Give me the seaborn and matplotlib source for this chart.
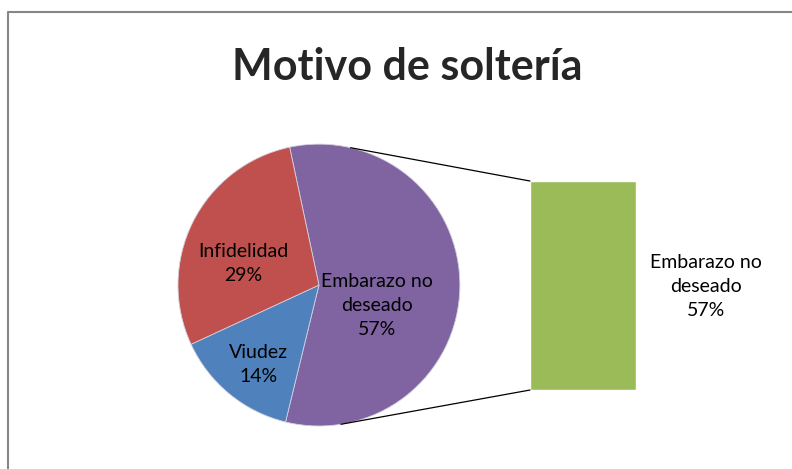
import numpy as np
import matplotlib.pyplot as plt
import seaborn as sns
from matplotlib.patches import ConnectionPatch
from matplotlib.lines import Line2D

# data
TITLE = "Motivo de soltería"
pie_labels = ["Embarazo no\ndeseado", "Viudez", "Infidelidad"]
pie_counts = [4, 1, 2]
pie_colors = ["#8064A2", "#4F81BD", "#C0504D"]
bar_labels = ["Embarazo no\ndeseado"]
bar_pct = [57]
bar_color = "#9BBB59"

# label placement inside the pie: (radius, angle in degrees)
label_pos = [(0.435, -19), (0.71, -127), (0.56, 164.5)]

sns.set_style("white")
plt.rcParams["font.family"] = ["Lato", "DejaVu Sans"]

fig = plt.figure(figsize=(7.92, 4.69), dpi=100)

# pie
ax_pie = fig.add_axes([0.2247, 0.0917, 0.356, 0.601])
wedges, _ = ax_pie.pie(pie_counts, colors=pie_colors, startangle=102,
                       counterclock=False,
                       wedgeprops=dict(edgecolor="#d0d0dc", linewidth=0.6))
ax_pie.set_xlim(-1, 1)
ax_pie.set_ylim(-1, 1)

total = sum(pie_counts)
for lab, cnt, (r, a) in zip(pie_labels, pie_counts, label_pos):
    pct = round(100 * cnt / total)
    ax_pie.text(r * np.cos(np.radians(a)), r * np.sin(np.radians(a)),
                f"{lab}\n{pct}%", ha="center", va="center",
                fontsize=14, linespacing=1.5, color="black")

# bar of the split slice
ax_bar = fig.add_axes([0.6692, 0.1684, 0.1338, 0.4456])
sns.barplot(x=bar_labels, y=bar_pct, color=bar_color, saturation=1,
            width=1, ax=ax_bar)
ax_bar.set_xlim(-0.5, 0.5)
ax_bar.set_ylim(0, bar_pct[0])
ax_bar.axis("off")
ax_bar.text(1.66, 0.495, f"{bar_labels[0]}\n{bar_pct[0]}%",
            transform=ax_bar.transAxes, ha="center", va="center",
            fontsize=14, linespacing=1.5, color="black")

# connector lines from pie to bar
for ang, yb in [(77, bar_pct[0]), (-81, 0)]:
    con = ConnectionPatch(xyA=(np.cos(np.radians(ang)), np.sin(np.radians(ang))),
                          coordsA=ax_pie.transData,
                          xyB=(-0.5, yb), coordsB=ax_bar.transData,
                          color="black", lw=0.9)
    fig.add_artist(con)

# title
fig.text(0.5145, 1 - 80 / 469, TITLE, ha="center", va="baseline",
         fontsize=31, fontweight="bold")

# chart frame (left and top edges only visible)
fig.add_artist(Line2D([8 / 792, 8 / 792, 1], [0, 1 - 12 / 469, 1 - 12 / 469],
                      transform=fig.transFigure, color="#868686", lw=1.5))

fig.savefig("out.png", dpi=100)
